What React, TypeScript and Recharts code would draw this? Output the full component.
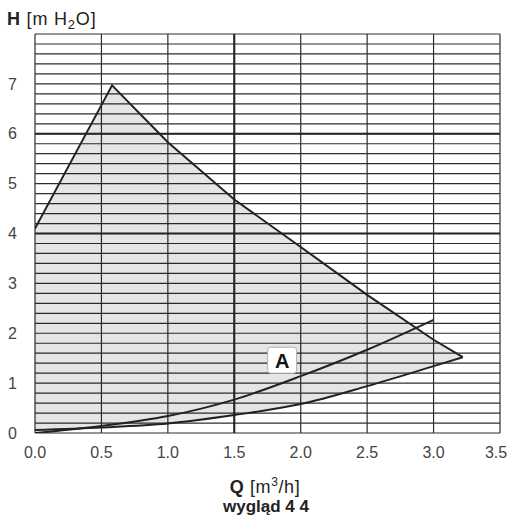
import { ComposedChart, Area, Line, XAxis, YAxis, CartesianGrid, ReferenceLine, ReferenceDot } from 'recharts';

const FONT = '"Liberation Sans", Arial, sans-serif';

const qTicks = [0, 0.5, 1, 1.5, 2, 2.5, 3, 3.5];
const hTicks = [0, 1, 2, 3, 4, 5, 6, 7];
// fine horizontal grid, every 0.2 m
const hGrid = Array.from({ length: 41 }, (_, i) => i * 0.2);

// shaded working field: upper and lower limit read at the same Q
const fieldQ = [0, 0.58, 1.0, 1.5, 2.0, 2.5, 3.0, 3.22];
const fieldTop = [4.1, 6.97, 5.83, 4.68, 3.73, 2.77, 1.87, 1.52];
const fieldBottom = [0.06, 0.12, 0.19, 0.36, 0.58, 0.94, 1.34, 1.52];

// lower limit curve
const bottomQ = [0, 0.5, 1.0, 1.5, 2.0, 2.5, 3.0, 3.22];
const bottomH = [0.06, 0.11, 0.19, 0.36, 0.58, 0.94, 1.34, 1.52];

// system curve "A"
const curveAQ = [0, 0.5, 1.0, 1.5, 2.0, 2.5, 3.0];
const curveAH = [0, 0.14, 0.34, 0.67, 1.14, 1.67, 2.27];

const fieldData = fieldQ.map((q, i) => ({ q, range: [fieldBottom[i], fieldTop[i]] }));
const topData = fieldQ.map((q, i) => ({ q, h: fieldTop[i] }));
const bottomData = bottomQ.map((q, i) => ({ q, h: bottomH[i] }));
const curveAData = curveAQ.map((q, i) => ({ q, h: curveAH[i] }));

const tickStyle = { fontSize: 16, fill: '#444', fontFamily: FONT };

// x tick, last one pulled in so it stays inside the frame
function QTick(props: any) {
  const { x, y, payload } = props;
  const last = payload.value === qTicks[qTicks.length - 1];
  return (
    <text x={last ? x - 4 : x} y={y} dy="0.71em" textAnchor="middle" {...tickStyle}>
      {payload.value.toFixed(1)}
    </text>
  );
}

function LabelA(props: any) {
  const { cx, cy } = props;
  return (
    <g>
      <rect x={cx - 14.5} y={cy - 13} width={29} height={26} rx={3} fill="#fff" stroke="#b0b0b0" />
      <text x={cx} y={cy + 7.5} textAnchor="middle" fontSize={20} fontWeight="bold" fill="#111" fontFamily={FONT}>
        A
      </text>
    </g>
  );
}

export default function App() {
  return (
    <div style={{ position: 'absolute', left: 0, top: 0, width: 509, height: 518, background: '#fff' }}>
      <ComposedChart width={509} height={518} margin={{ top: 34, right: 9, bottom: 0, left: 0 }}>
        <CartesianGrid horizontalValues={hGrid} verticalValues={qTicks} stroke="#2e2e2e" strokeWidth={1.2} />
        <XAxis
          type="number"
          dataKey="q"
          domain={[0, 3.5]}
          ticks={qTicks}
          interval={0}
          axisLine={false}
          tickLine={false}
          tickSize={0}
          tickMargin={14}
          height={85}
          tick={<QTick />}
          allowDataOverflow
        />
        <YAxis
          type="number"
          domain={[0, 8]}
          ticks={hTicks}
          interval={0}
          axisLine={false}
          tickLine={false}
          tickSize={0}
          tickMargin={18}
          width={35}
          tick={tickStyle}
          allowDataOverflow
        />
        <Area
          data={fieldData}
          dataKey="range"
          type="linear"
          stroke="none"
          fill="#000"
          fillOpacity={0.1}
          isAnimationActive={false}
        />
        <ReferenceLine y={4} stroke="#222" strokeWidth={2} />
        <ReferenceLine y={6} stroke="#222" strokeWidth={2} />
        <ReferenceLine x={1.5} stroke="#222" strokeWidth={2} />
        <Line data={topData} dataKey="h" type="linear" stroke="#222" strokeWidth={2} dot={false} isAnimationActive={false} />
        <Line data={bottomData} dataKey="h" type="monotone" stroke="#222" strokeWidth={2} dot={false} isAnimationActive={false} />
        <Line data={curveAData} dataKey="h" type="monotone" stroke="#222" strokeWidth={2} dot={false} isAnimationActive={false} />
        <ReferenceDot x={1.86} y={1.46} r={1} shape={LabelA} />
      </ComposedChart>
      <svg width={509} height={518} style={{ position: 'absolute', left: 0, top: 0, pointerEvents: 'none' }}>
        <text x={7} y={25} fontSize={18} fill="#222" fontFamily={FONT} letterSpacing={0.8}>
          <tspan fontWeight="bold">H</tspan>
          <tspan> [m H</tspan>
          <tspan fontSize={13} dy={4}>2</tspan>
          <tspan dy={-4}>O]</tspan>
        </text>
        <text x={265} y={493} textAnchor="middle" fontSize={18} fill="#222" fontFamily={FONT} letterSpacing={0.6}>
          <tspan fontWeight="bold">Q</tspan>
          <tspan> [m</tspan>
          <tspan fontSize={12} dy={-7}>3</tspan>
          <tspan dy={7}>/h]</tspan>
        </text>
        <text x={266} y={512} textAnchor="middle" fontSize={17} fontWeight="bold" fill="#222" fontFamily={FONT}>
          wygląd 4 4
        </text>
      </svg>
    </div>
  );
}
